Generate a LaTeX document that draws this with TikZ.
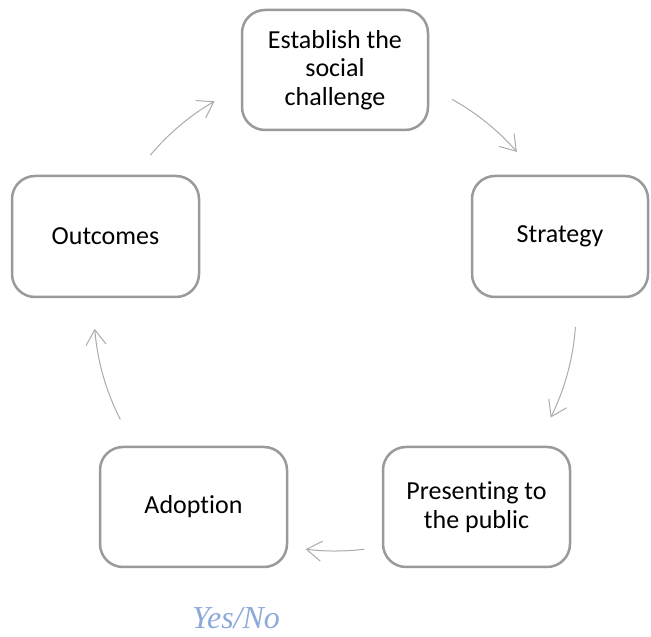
\documentclass[tikz,border=0pt]{standalone}
\usepackage{fontspec}
\setmainfont{Carlito}[Ligatures={NoCommon}]
\newfontfamily\yesnofont{Liberation Serif}
\usetikzlibrary{arrows.meta,calc}
\definecolor{boxgray}{HTML}{9A9A9A}
\definecolor{arrgray}{HTML}{ABABAB}
\definecolor{lightblue}{HTML}{8EAADB}
\tikzset{
  stagebox/.style={draw=boxgray, line width=2.5pt, rounded corners=23pt, fill=white,
    align=center, font=\fontsize{26}{28.5}\selectfont, inner sep=0pt},
  cyclearrow/.style={draw=arrgray, line width=1pt,
    -{Straight Barb[length=15pt,width=20pt,line width=1pt]}}
}
\begin{document}
\begin{tikzpicture}[x=1pt,y=1pt]
\useasboundingbox (0,0) rectangle (651,637);
\node[stagebox, minimum width=186pt, minimum height=120pt] (est) at (335,567) {Establish the\\social\\challenge};
\node[stagebox, minimum width=176pt, minimum height=121pt] (str) at (560,400.5) {Strategy};
\node[stagebox, minimum width=187pt, minimum height=121pt] (out) at (105.5,400.5) {Outcomes};
\node[stagebox, minimum width=187pt, minimum height=120pt] (pre) at (476.5,130) {Presenting to\\the public};
\node[stagebox, minimum width=187pt, minimum height=120pt] (ado) at (193.5,130) {Adoption};
\node[anchor=base west, inner sep=0pt, text=lightblue, font=\yesnofont\itshape\fontsize{32}{34}\selectfont] (yn) at (192,8) {Yes/No};
\coordinate (c) at (335,327);
\coordinate (a1) at ($(c)+(61:241)$);
\coordinate (a2) at ($(c)+(-4:241)$);
\coordinate (a3) at ($(c)+(-83:241)$);
\coordinate (a4) at ($(c)+(-153:241)$);
\coordinate (a5) at ($(c)+(140:241)$);
\draw[cyclearrow] (a1) arc[start angle=61, end angle=41, radius=241];
\draw[cyclearrow] (a2) arc[start angle=-4, end angle=-26.5, radius=241];
\draw[cyclearrow] (a3) arc[start angle=-83, end angle=-97, radius=241];
\draw[cyclearrow] (a4) arc[start angle=-153, end angle=-175.5, radius=241];
\draw[cyclearrow] (a5) arc[start angle=140, end angle=120, radius=241];
\end{tikzpicture}
\end{document}
